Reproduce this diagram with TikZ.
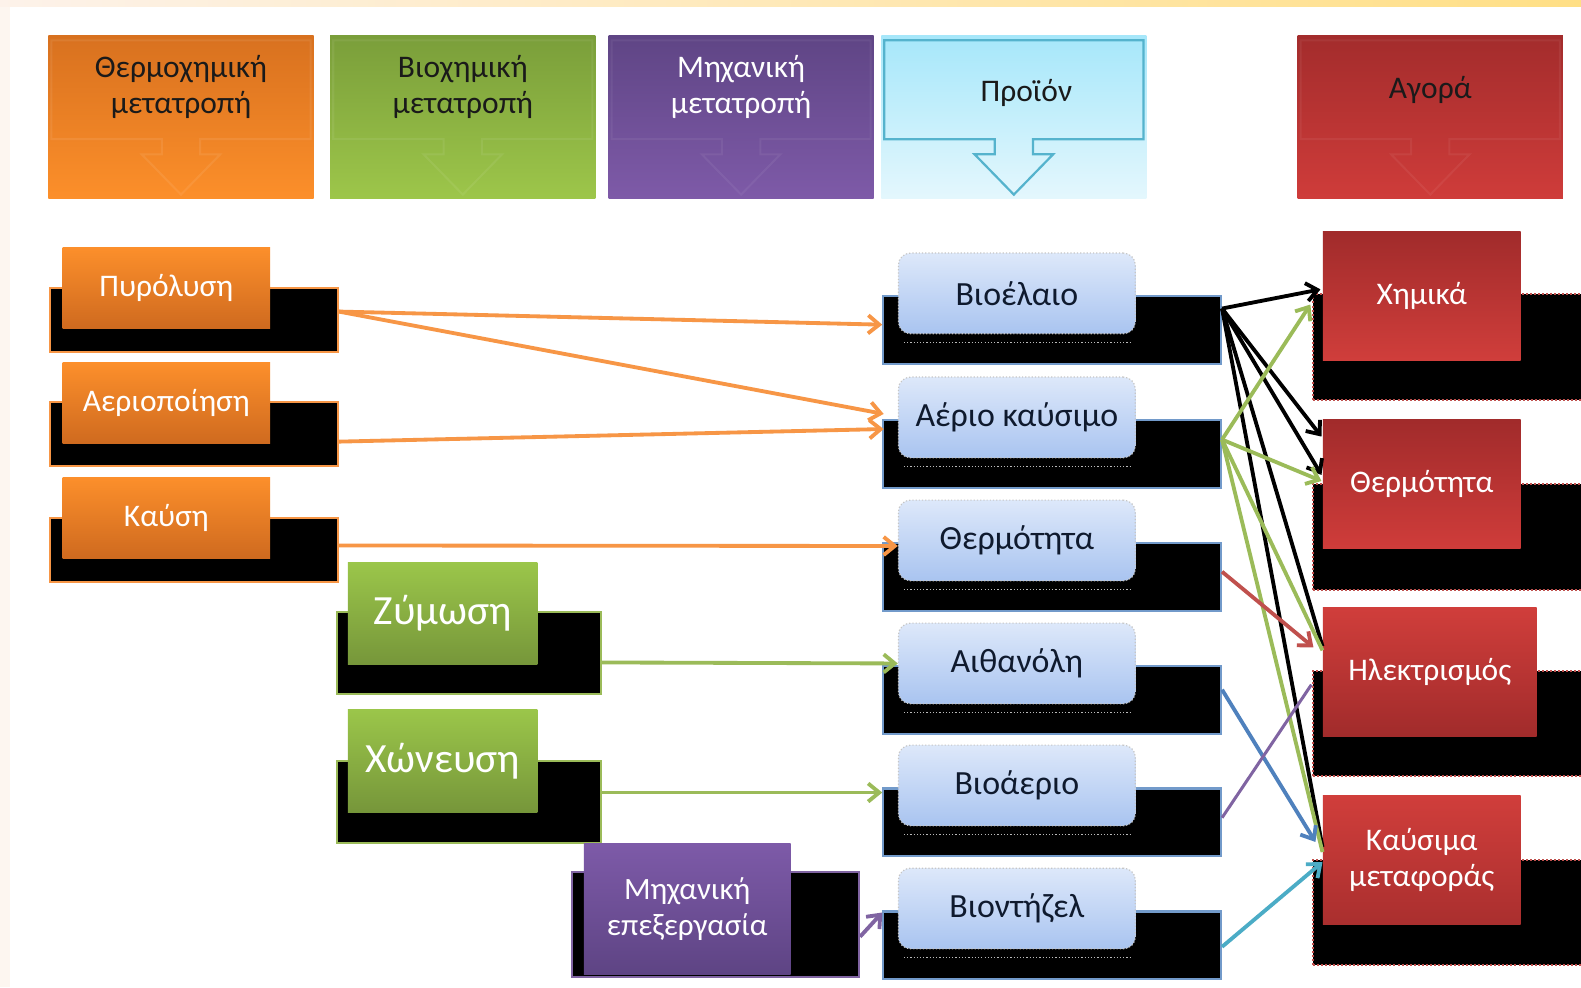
\documentclass[tikz,border=0pt]{standalone}
\usepackage{fontspec}
\setmainfont{Carlito}
\usetikzlibrary{arrows.meta,calc}
\definecolor{StripL}{HTML}{FDF6F0}
\definecolor{TopA}{HTML}{FDF2EA}
\definecolor{TopB}{HTML}{FCE3CB}
\definecolor{TopC}{HTML}{FFDF85}
\definecolor{HOrT}{HTML}{D8711F}
\definecolor{HOrB}{HTML}{FC8F2A}
\definecolor{HGrT}{HTML}{7A9E3A}
\definecolor{HGrB}{HTML}{9DC64A}
\definecolor{HPuT}{HTML}{5F4585}
\definecolor{HPuB}{HTML}{7E5AA8}
\definecolor{HBlT}{HTML}{A6E7FA}
\definecolor{HBlB}{HTML}{E4F7FD}
\definecolor{HReT}{HTML}{A32C2C}
\definecolor{HReB}{HTML}{CF3C3A}
\definecolor{OrT}{HTML}{FC8F2B}
\definecolor{OrB}{HTML}{CF6A1F}
\definecolor{GrT}{HTML}{9BC64A}
\definecolor{GrB}{HTML}{76963A}
\definecolor{PuT}{HTML}{7D5AA8}
\definecolor{PuB}{HTML}{5E4484}
\definecolor{PrT}{HTML}{DDE8FA}
\definecolor{PrB}{HTML}{A9C4F0}
\definecolor{ReL}{HTML}{D03E3B}
\definecolor{ReD}{HTML}{A12B2B}
\definecolor{LOr}{HTML}{F79646}
\definecolor{LGr}{HTML}{9BBB59}
\definecolor{LRe}{HTML}{C0504D}
\definecolor{LBl}{HTML}{4F81BD}
\definecolor{LPu}{HTML}{8064A2}
\definecolor{LCy}{HTML}{4BACC6}
\definecolor{CallBl}{HTML}{55B3CD}
\definecolor{TxtD}{HTML}{1A1A1A}
\definecolor{TxtN}{HTML}{0F1A2E}
\begin{document}
\begin{tikzpicture}[x=0.5pt,y=-0.5pt,
  hdr/.style={minimum width=131.5pt,minimum height=81pt,inner sep=0pt},
  htext/.style={align=center,font=\fontsize{15.6}{18}\selectfont,inner sep=0pt},
  blk/.style={fill=black,line width=1pt,inner sep=0pt},
  obox/.style={top color=OrT,bottom color=OrB,text=white,minimum width=103pt,minimum height=40pt,inner sep=0pt,font=\fontsize{15.6}{18}\selectfont},
  gbox/.style={top color=GrT,bottom color=GrB,text=white,minimum width=94pt,minimum height=51pt,inner sep=0pt,font=\fontsize{20.6}{24}\selectfont},
  pbox/.style={top color=PuT,bottom color=PuB,text=white,minimum width=102.5pt,minimum height=64.5pt,inner sep=0pt,align=center,font=\fontsize{15.4}{17.5}\selectfont},
  prbox/.style={top color=PrT,bottom color=PrB,text=TxtN,rounded corners=6pt,draw=gray!45,densely dotted,line width=0.6pt,minimum width=117.5pt,minimum height=40pt,inner sep=0pt,font=\fontsize{16.8}{19}\selectfont},
  prblk/.style={blk,draw=LBl!80,minimum width=167.5pt,minimum height=33.5pt},
  rbox/.style={text=white,minimum width=98pt,minimum height=64pt,inner sep=0pt,align=center,font=\fontsize{15.6}{17.5}\selectfont},
  rblk/.style={blk,draw=LRe,densely dotted,minimum width=139pt,minimum height=52.5pt},
  dotline/.style={gray!55,densely dotted,line width=0.6pt},
  conn/.style={line width=1.9pt},
  arr/.style={conn,-{Straight Barb[length=5.5pt,width=9pt]}},
  pics/callout/.style={code={
    \draw[#1] (-128.5,40) -- (128.5,40) -- (128.5,138) -- (19,138) -- (19,153) -- (39,153)
      -- (0,193) -- (-39,153) -- (-19,153) -- (-19,138) -- (-128.5,138) -- cycle;}}
]
\useasboundingbox (0,0) rectangle (1568,979);
\fill[white] (0,0) rectangle (1568,979);
\fill[StripL] (0,0) rectangle (10,979);
\shade[left color=TopA,middle color=TopB,right color=TopC] (0,0) rectangle (1568,6);

% header boxes
\node[hdr,top color=HOrT,bottom color=HOrB] (hThermo) at (179.5,116) {};
\node[hdr,top color=HGrT,bottom color=HGrB] (hBio) at (459,116) {};
\node[hdr,top color=HPuT,bottom color=HPuB] (hMech) at (735,116) {};
\node[hdr,top color=HBlT,bottom color=HBlB] (hProd) at (1005.5,116) {};
\node[hdr,top color=HReT,bottom color=HReB] (hMarket) at (1418.5,116) {};
\pic at (179.5,0) {callout={white,opacity=0.08,line width=1pt}};
\pic at (459,0) {callout={white,opacity=0.07,line width=1pt}};
\pic at (735,0) {callout={white,opacity=0.06,line width=1pt}};
\pic at (1005.5,0) {callout={CallBl,line width=1.1pt}};
\pic at (1418.5,0) {callout={white,opacity=0.06,line width=1pt}};
\node[htext,text=TxtD] (tThermo) at (179.5,86) {Θερμοχημική\\μετατροπή};
\node[htext,text=TxtD] (tBio) at (459,86) {Βιοχημική\\μετατροπή};
\node[htext,text=white] (tMech) at (735,86) {Μηχανική\\μετατροπή};
\node[htext,text=TxtD] (tProd) at (1018,92) {Προϊόν};
\node[htext,text=TxtD] (tMarket) at (1418.5,89) {Αγορά};

% left thermochemical
\node[blk,draw=LOr,minimum width=142.5pt,minimum height=31.5pt] (pyrB) at (192.5,317.5) {};
\node[blk,draw=LOr,minimum width=142.5pt,minimum height=31.5pt] (gasifB) at (192.5,430.5) {};
\node[blk,draw=LOr,minimum width=142.5pt,minimum height=31.5pt] (kafB) at (192.5,545.5) {};
\node[obox] (pyr) at (165,285.5) {Πυρόλυση};
\node[obox] (gasif) at (165,400) {Αεριοποίηση};
\node[obox] (kaf) at (165,513.5) {Καύση};

% biochemical
\node[blk,draw=LGr,minimum width=131pt,minimum height=40.5pt] (zymB) at (465,647.5) {};
\node[blk,draw=LGr,minimum width=131pt,minimum height=40.5pt] (xonB) at (465,795.5) {};
\node[gbox] (zym) at (439,608.5) {Ζύμωση};
\node[gbox] (xon) at (439,754.5) {Χώνευση};

% mechanical
\node[blk,draw=LPu,minimum width=142.5pt,minimum height=52pt] (mechB) at (709.5,917) {};
\node[pbox] (mech) at (681.5,901.5) {Μηχανική\\επεξεργασία};

% products
\node[prblk] (bioilB) at (1043.5,327.5) {};
\node[prblk] (gasB) at (1043.5,450.5) {};
\node[prblk] (heatB) at (1043.5,572.5) {};
\node[prblk] (ethB) at (1043.5,694.5) {};
\node[prblk] (biogasB) at (1043.5,815.5) {};
\node[prblk] (biodB) at (1043.5,937.5) {};
\node[prbox] (bioil) at (1008.5,291) {Βιοέλαιο};
\node[prbox] (gas) at (1008.5,414) {Αέριο καύσιμο};
\node[prbox] (heat) at (1008.5,536) {Θερμότητα};
\node[prbox] (eth) at (1008.5,658) {Αιθανόλη};
\node[prbox] (biogas) at (1008.5,779) {Βιοάεριο};
\node[prbox] (biod) at (1008.5,901) {Βιοντήζελ};
\foreach \n in {bioil,gas,heat,eth,biogas,biod}{
  \draw[dotline] ($(\n.south west)+(6,8)$) -- ($(\n.south east)+(-6,8)$);
}

% market
\node[rblk] (chemB) at (1441,344.5) {};
\node[rblk] (heatMB) at (1441,532.5) {};
\node[rblk] (elecB) at (1441,717.5) {};
\node[rblk] (fuelB) at (1441,905) {};
\node[rbox,top color=ReD,bottom color=ReL] (chem) at (1410,294) {Χημικά};
\node[rbox,top color=ReD,bottom color=HReB] (heatM) at (1410,480) {Θερμότητα};
\node[rbox,minimum width=106pt,top color=ReL,bottom color=ReD] (elec) at (1418,666.5) {Ηλεκτρισμός};
\node[rbox,top color=ReL,bottom color=HReT!85!ReL] (fuel) at (1410,853) {Καύσιμα\\μεταφοράς};

% connectors: left to products
\draw[arr,LOr] ([yshift=4.25pt]pyrB.east) -- ([yshift=2.75pt]bioilB.west);
\draw[arr,LOr] ([yshift=4.25pt]pyrB.east) -- ([xshift=-7pt,yshift=1.75pt]gas.west);
\draw[arr,LOr] ([yshift=-3.75pt]gasifB.east) -- ([xshift=-7pt,yshift=-5.75pt]gas.west);
\draw[arr,LOr] ([yshift=2.25pt]kafB.east) -- ([yshift=-2.75pt]heat.west);
\draw[arr,LGr] ([yshift=-4.75pt]zymB.east) -- (eth.west);
\draw[arr,LGr] ([yshift=4.75pt]xonB.east) -- ([yshift=-2.5pt]biogasB.north west);
\draw[arr,LPu] ([yshift=-6pt]mechB.east) -- ([yshift=-1pt]biodB.north west);

% connectors: products to market
\coordinate (sOil) at ([yshift=-6.5pt]bioilB.north east);
\coordinate (sGas) at ([yshift=-10pt]gasB.north east);
\draw[conn,black] (sOil) -- ([yshift=12.75pt]elec.west);
\draw[conn,black] (sOil) -- ([yshift=6.5pt]fuel.west);
\draw[conn,LGr] (sGas) -- ([yshift=10.75pt]elec.west);
\draw[conn,LGr] (sGas) -- ([yshift=4pt]fuel.west);
\draw[arr,black] (sOil) -- ([xshift=-1pt,yshift=3.5pt]chem.west);
\draw[arr,black] (sOil) -- ([xshift=-0.5pt,yshift=23.5pt]heatM.west);
\draw[arr,black] (sOil) -- ([xshift=-0.5pt,yshift=4.5pt]heatM.west);
\draw[arr,LGr] (sGas) -- ([xshift=-6pt,yshift=-4pt]chem.west);
\draw[arr,LGr] (sGas) -- ([xshift=-0.5pt,yshift=1.5pt]heatM.west);
\draw[arr,LRe] ([yshift=-14.5pt]heatB.north east) -- ([xshift=-4.5pt,yshift=12.25pt]elec.west);
\draw[arr,LBl] ([yshift=-12pt]ethB.north east) -- ([xshift=-3.5pt,yshift=9pt]fuel.west);
\draw[conn,LPu,line width=1.5pt] ([yshift=-15pt]biogasB.north east) -- ([xshift=-5.5pt,yshift=-6.25pt]elec.west);
\draw[arr,LCy] ([yshift=-18pt]biodB.north east) -- ([yshift=-1pt]fuel.west);
\end{tikzpicture}
\end{document}
